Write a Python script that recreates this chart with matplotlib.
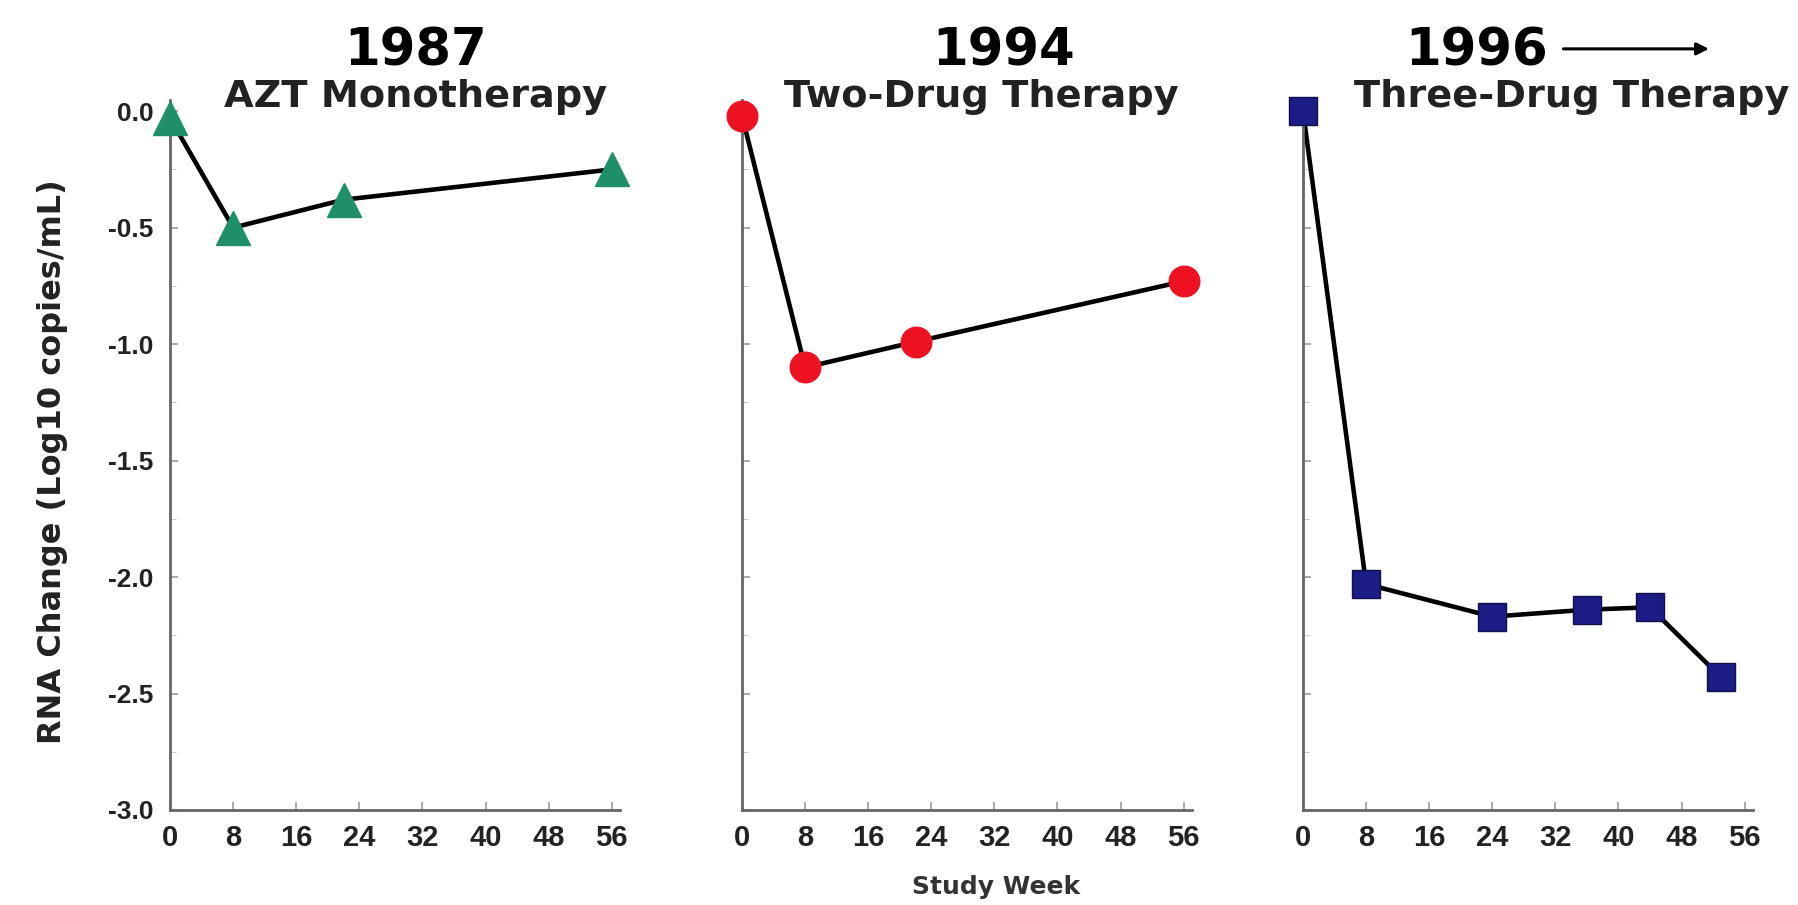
import matplotlib
matplotlib.use("Agg")
import matplotlib.pyplot as plt

plt.rcParams['font.family'] = ['DejaVu Sans']

# study week and RNA change (log10 copies/mL) per regimen
azt_weeks = [0, 8, 22, 56]
azt_change = [-0.03, -0.50, -0.38, -0.25]

two_weeks = [0, 8, 22, 56]
two_change = [-0.02, -1.10, -0.99, -0.73]

three_weeks = [0, 8, 24, 36, 44, 53]
three_change = [0.0, -2.03, -2.17, -2.14, -2.13, -2.43]

years = ["1987", "1994", "1996"]
therapies = ["AZT Monotherapy", "Two-Drug Therapy", "Three-Drug Therapy"]

x_ticks = [0, 8, 16, 24, 32, 40, 48, 56]
y_ticks = [0.0, -0.5, -1.0, -1.5, -2.0, -2.5, -3.0]

fig = plt.figure(figsize=(17.98, 9.05), dpi=100)

lefts = [0.0946, 0.4127, 0.7247]
series = [
    (azt_weeks, azt_change, '^', '#1f8f6b', '#1f8f6b', 24),
    (two_weeks, two_change, 'o', '#ee1122', '#ee1122', 22),
    (three_weeks, three_change, 's', '#1c1c86', '#10104a', 20),
]

tick_font = dict(fontweight='bold', family=['Liberation Sans'], color='#222222')

for i, (wk, ch, mk, fc, ec, ms) in enumerate(series):
    ax = fig.add_axes([lefts[i], 0.105, 0.25, 0.785])
    ax.plot(wk, ch, color='black', lw=3.3, zorder=2, clip_on=False)
    ax.plot(wk, ch, ls='none', marker=mk, ms=ms, mfc=fc, mec=ec, mew=1,
            zorder=3, clip_on=False)
    ax.set_xlim(0, 57)
    ax.set_ylim(-3.0, 0.05)
    ax.set_xticks(x_ticks)
    ax.set_yticks(y_ticks)
    ax.set_yticks([-0.25, -0.75, -1.25, -1.75, -2.25, -2.75], minor=True)
    ax.spines['top'].set_visible(False)
    ax.spines['right'].set_visible(False)
    for s in ['left', 'bottom']:
        ax.spines[s].set_color('#666666')
        ax.spines[s].set_linewidth(2)
    ax.tick_params(direction='in', colors='#999999', length=6, width=1.2)
    ax.tick_params(axis='x', pad=10)
    ax.tick_params(axis='y', pad=12)
    ax.tick_params(which='minor', direction='in', colors='#bbbbbb', length=4)
    ax.set_xticklabels([str(v) for v in x_ticks], fontsize=21, **tick_font)
    if i == 0:
        ax.set_yticklabels(['%.1f' % v for v in y_ticks], fontsize=19,
                           **tick_font)
    else:
        ax.set_yticklabels([])

# titles
title_x = [0.231, 0.558, 0.821]
sub_x = [0.231, 0.546, 0.874]
for i in range(3):
    fig.text(title_x[i], 0.928, years[i], ha='center', va='baseline',
             fontsize=37, fontweight='bold')
    fig.text(sub_x[i], 0.882, therapies[i], ha='center', va='baseline',
             fontsize=27.5, fontweight='bold', color='#222222')

fig.add_artist(matplotlib.patches.FancyArrowPatch(
    (0.868, 0.946), (0.952, 0.946), transform=fig.transFigure,
    arrowstyle='-|>', mutation_scale=18, lw=2.2, color='black'))

fig.text(0.029, 0.49, "RNA Change (Log10 copies/mL)", rotation=90,
         ha='center', va='center', fontsize=23, fontweight='bold',
         color='#222222')
fig.text(0.554, 0.02, "Study Week", ha='center', va='center',
         fontsize=18, fontweight='bold', color='#333333')

fig.savefig("out.png", dpi=100, facecolor='white')
